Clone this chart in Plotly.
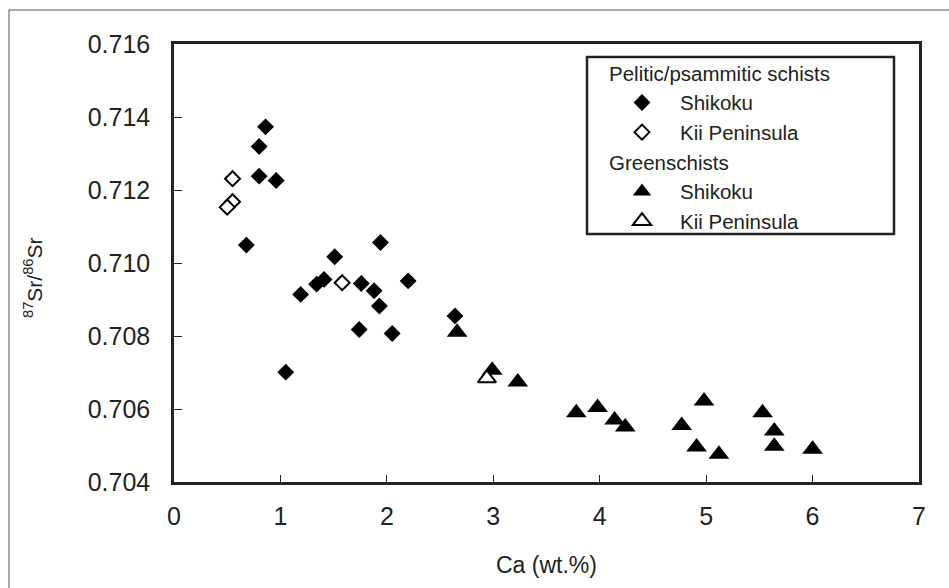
import plotly.graph_objects as go

# Pelitic/psammitic schists
pel_shikoku_ca = [0.86, 0.80, 0.80, 0.96, 0.68, 1.51, 1.94, 1.19, 1.34, 1.41, 1.76, 1.88, 1.93, 2.20, 1.74, 2.05, 1.05, 2.64]
pel_shikoku_sr = [0.71373, 0.71319, 0.71238, 0.71226, 0.71049, 0.71017, 0.71056, 0.70914, 0.70942, 0.70955,
                  0.70944, 0.70924, 0.70882, 0.70951, 0.70818, 0.70807, 0.70701, 0.70855]
pel_kii_ca = [0.55, 0.55, 0.50, 1.58]
pel_kii_sr = [0.71231, 0.71168, 0.71153, 0.70946]

# Greenschists
grn_shikoku_ca = [2.66, 2.99, 3.23, 3.78, 3.98, 4.14, 4.24, 4.77, 4.98, 4.91, 5.12, 5.53, 5.64, 5.64, 6.00]
grn_shikoku_sr = [0.70810, 0.70706, 0.70674, 0.70590, 0.70604, 0.70570, 0.70551, 0.70555, 0.70622, 0.70496,
                  0.70476, 0.70590, 0.70540, 0.70498, 0.70490]
grn_kii_ca = [2.94]
grn_kii_sr = [0.70684]

x_ticks = [0, 1, 2, 3, 4, 5, 6, 7]
y_ticks = [0.704, 0.706, 0.708, 0.710, 0.712, 0.714, 0.716]

FONT = "Liberation Sans, Arial, sans-serif"

fig = go.Figure()
fig.add_trace(go.Scatter(
    x=pel_shikoku_ca, y=pel_shikoku_sr, mode="markers", name="Shikoku",
    legendgroup="pel", legendgrouptitle=dict(text="Pelitic/psammitic schists"),
    marker=dict(symbol="diamond", size=13, color="black", line=dict(width=0))))
fig.add_trace(go.Scatter(
    x=pel_kii_ca, y=pel_kii_sr, mode="markers", name="Kii Peninsula",
    legendgroup="pel",
    marker=dict(symbol="diamond", size=11.5, color="white", line=dict(width=2, color="black"))))
fig.add_trace(go.Scatter(
    x=grn_shikoku_ca, y=grn_shikoku_sr, mode="markers", name="Shikoku",
    legendgroup="grn", legendgrouptitle=dict(text="Greenschists"),
    marker=dict(symbol="triangle-up", size=18, color="black", line=dict(width=0))))
fig.add_trace(go.Scatter(
    x=grn_kii_ca, y=grn_kii_sr, mode="markers", name="Kii Peninsula",
    legendgroup="grn",
    marker=dict(symbol="triangle-up", size=16, color="white", line=dict(width=2, color="black"))))

fig.update_layout(
    width=949, height=588,
    margin=dict(l=174, r=30, t=44, b=106),
    paper_bgcolor="white", plot_bgcolor="white",
    font=dict(family=FONT, color="#222", size=22),
    showlegend=True,
    legend=dict(
        x=(604 - 174) / 745, xanchor="left",
        y=1 - (53 - 44) / 438, yanchor="top",
        bgcolor="rgba(0,0,0,0)", borderwidth=0,
        font=dict(size=20.5, family=FONT, color="#222"),
        grouptitlefont=dict(size=20.5, family=FONT, color="#222"),
        itemwidth=66, tracegroupgap=0, traceorder="grouped",
    ),
    xaxis=dict(
        range=[0, 7], tickvals=x_ticks, ticks="inside", ticklen=7, tickwidth=1, tickcolor="#222",
        showline=True, linewidth=2.5, linecolor="#222", mirror=True, showgrid=False, zeroline=False,
        tickfont=dict(size=25, family=FONT, color="#222"), ticklabelstandoff=10,
    ),
    yaxis=dict(
        range=[0.704, 0.716], tickvals=y_ticks, tickformat=".3f", ticks="inside", ticklen=8, tickwidth=1,
        tickcolor="#222",
        showline=True, linewidth=2.5, linecolor="#222", mirror=True, showgrid=False, zeroline=False,
        tickfont=dict(size=25, family=FONT, color="#222"), ticklabelstandoff=16,
    ),
    shapes=[
        # legend box
        dict(type="rect", xref="paper", yref="paper",
             x0=(587 - 174) / 745, x1=(894 - 174) / 745,
             y0=1 - (234 - 44) / 438, y1=1 - (57 - 44) / 438,
             line=dict(color="#222", width=2.5), fillcolor="rgba(0,0,0,0)", layer="above"),
        # outer frame
        dict(type="rect", xref="paper", yref="paper",
             x0=(9 - 174) / 745, x1=1.2,
             y0=-0.5, y1=1 + (44 - 10) / 438,
             line=dict(color="#555", width=1), fillcolor="rgba(0,0,0,0)", layer="below"),
    ],
    annotations=[
        dict(text="Ca (wt.%)", xref="paper", yref="paper",
             x=(546 - 174) / 745, y=1 - (565 - 44) / 438, xanchor="center", yanchor="middle",
             showarrow=False, font=dict(size=23, family=FONT, color="#222")),
        dict(text="<sup>87</sup>Sr/<sup>86</sup>Sr", xref="paper", yref="paper",
             x=(33 - 174) / 745, y=1 - (278 - 44) / 438, xanchor="center", yanchor="middle",
             textangle=-90, showarrow=False, font=dict(size=21, family=FONT, color="#222")),
    ],
)

fig.write_html("out.html")
